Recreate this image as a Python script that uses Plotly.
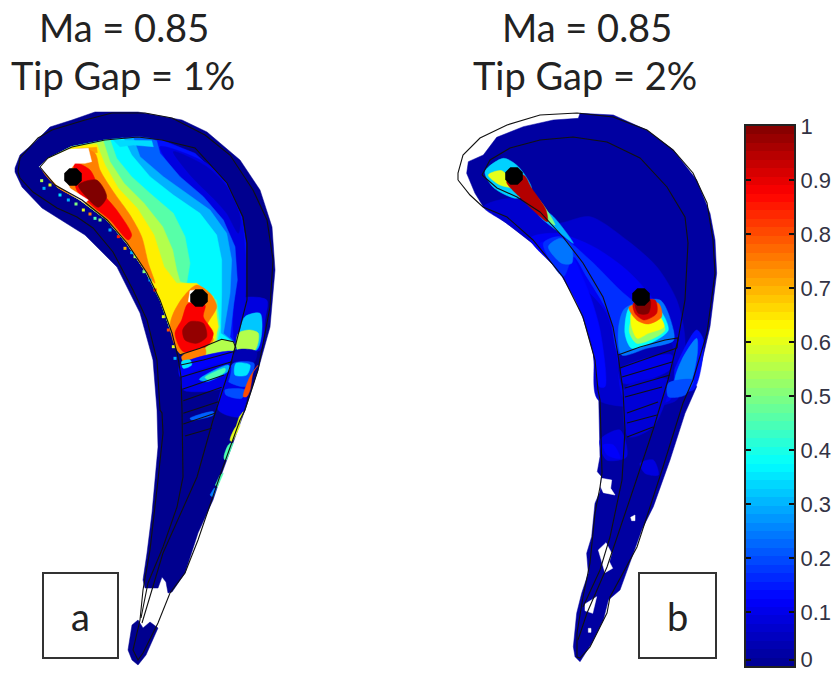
import plotly.graph_objects as go
from plotly.colors import sample_colorscale

JET = [[0, "rgb(0,0,143)"], [0.125, "rgb(0,0,255)"], [0.375, "rgb(0,255,255)"],
       [0.625, "rgb(255,255,0)"], [0.875, "rgb(255,0,0)"], [1, "rgb(128,0,0)"]]
BAR_LEVELS = [(i + 0.5) / 64 for i in range(64)]
BAR_TICKS = [0.012, 0.1, 0.2, 0.3, 0.4, 0.5, 0.6, 0.7, 0.8, 0.9, 1]
BAR_TEXT = ["0", "0.1", "0.2", "0.3", "0.4", "0.5", "0.6", "0.7", "0.8", "0.9", "1"]
TITLES = [("Ma = 0.85", 124, 27), ("Tip Gap = 1%", 123, 75), ("Ma = 0.85", 587, 27), ("Tip Gap = 2%", 585, 75)]
LETTERS = [("a", 80, 616, 43, 573, 118, 658), ("b", 677, 616, 639, 573, 716, 658)]

# ---- profile lines of blade b (page pixels)
SKIN = [(458,180),(458,173),(463,155),(480,138),(507,125),(540,115),(577,113),(613,117),(647,130),(673,150),(693,173),(707,203),(713,240),(715,273),(707,333),(693,380),(683,403),(663,467),(637,547),(610,597),(607,613),(590,647),(580,658),(577,657),(577,633),(583,597),(590,563),(595,513),(600,487),(602,473),(600,400),(598,390),(595,360),(583,317),(563,277),(533,240),(507,217),(483,207),(470,195),(458,180)]
SPAR_R = [(482,175),(490,160),(510,148),(540,140),(573,137),(607,142),(640,158),(667,187),(685,217),(688,243),(685,300),(678,340),(668,380),(653,430),(633,490),(607,567),(587,613),(578,640)]
SPAR_L = [(482,175),(497,188),(517,197),(540,212),(563,237),(583,263),(603,297),(613,327),(618,355),(623,390),(625,430),(622,480),(610,537),(600,570),(583,607)]
RIBS = [[(618,355),(640,347),(665,340),(678,338),(677,348)], [(620,368),(677,348)], [(622,377),(672,362)], [(625,388),(670,375)],
        [(625,397),(662,387)], [(627,413),(658,402)], [(627,423),(657,415)], [(627,437),(653,427)]]

# ---- profile lines of blade a (page pixels)
A_SKIN = [(18,172),(20,158),(38,138),(52,130),(85,120),(112,113),(145,113),(172,118),(205,135),(230,155),(253,190),(267,220),(273,260),(270,307),(258,370),(245,410),(240,420),(223,467),(198,540),(185,573),(170,593),(158,623),(143,653),(138,660),(133,650),(140,620),(143,590),(150,550),(158,480),(163,433),(162,413),(160,410),(157,360),(147,320),(133,290),(113,252),(93,228),(77,217),(57,208),(33,192),(20,178),(18,172)]
A_SPAR_R = [(40,167),(48,158),(72,147),(105,140),(138,137),(162,140),(195,148),(227,183),(243,217),(247,243),(247,300),(237,340),(230,367),(213,420),(197,477),(163,553),(153,587),(142,623)]
A_SPAR_L = [(40,167),(55,185),(82,200),(107,220),(127,243),(147,273),(160,300),(172,333),(178,357),(181,377),(182,410),(183,477),(177,507),(163,547),(148,583),(141,618)]
# crop coordinates of a 3x view with origin (150,300)
A_RIBS = [[(88,165),(150,145),(215,118),(250,125),(258,145)], [(92,195),(160,180),(250,155)], [(92,232),(245,185)], [(97,268),(222,225)],
          [(100,302),(215,262)], [(100,340),(205,305)], [(100,372),(195,340)], [(105,408),(185,385)]]

# ---- blade a masks (page pixels)
A_MASK = [(15,168),(20,155),(35,142),(50,127),(72,120),(95,112),(138,112),(182,120),(207,132),(240,160),(260,190),(272,227),(275,270),(270,327),(258,370),(245,410),(222,473),(213,500),(198,533),(185,573),(172,592),(168,593),(166,582),(162,577),(158,588),(145,588),(143,580),(147,553),(152,513),(155,480),(158,447),(157,410),(155,380),(153,360),(140,313),(117,267),(85,235),(72,227),(42,208),(22,187),(15,172)]
A_LOBE = [(132,625),(128,650),(132,660),(138,665),(146,655),(158,628),(150,622),(143,628),(138,620)]

# ---- blade a colour patches, crop coordinates of a 3x view with origin (0,120)
A_EDGE = [(705,670),(640,690),(540,700),(515,640),(480,540),(440,460),(380,370),(320,300),(240,240),(170,200),(120,140)]
A_TOP = [(145,115),(215,80),(315,60),(415,50),(450,55)]
A_CAVITY = [(120,140),(145,115),(215,80),(315,60),(415,50),(485,60),(585,100),(680,190),(725,290),(738,370),(735,540),(705,670),(640,690),(540,700),(515,640),(480,540),(440,460),(380,370),(320,300),(240,240),(170,200)]
A_ISO = [
    (0.22, [(470,62),(480,100),(540,170),(610,230),(670,300),(705,380),(712,480),(700,560),(690,650)]),
    (0.30, [(400,54),(420,110),(490,170),(560,220),(630,270),(680,340),(695,420),(690,520),(670,640)]),
    (0.37, [(370,54),(395,105),(450,170),(520,225),(600,280),(650,345),(665,420),(665,520),(662,640)]),
    (0.46, [(330,58),(350,115),(395,170),(450,220),(520,280),(555,350),(570,430),(560,490),(650,540),(660,620),(650,675)]),
    (0.55, [(310,64),(330,125),(372,190),(432,250),(488,320),(518,390),(530,450),(540,485),(620,510),(650,570),(650,670)]),
    (0.64, [(290,72),(315,135),(355,205),(412,265),(462,345),(492,440),(530,490),(590,490),(640,530),(655,620),(640,675)]),
]
A_DARK = (0.05, [(520,95),(620,140),(680,200),(720,290),(715,340),(680,280),(640,235),(575,170)])
A_ORANGE1 = (0.75, [(125,140),(245,85),(285,100),(300,150),(340,215),(390,285),(425,350),(445,430),(465,490),(440,460),(380,370),(320,300),(240,240),(170,200)])
A_ORANGE2 = (0.75, [(550,530),(590,495),(630,520),(650,560),(620,620),(640,660),(610,690),(540,700),(510,620),(520,580)])
A_RED1 = (0.88, [(225,130),(270,150),(300,210),(350,270),(395,345),(385,360),(330,300),(280,260),(230,210)])
A_RED2 = (0.88, [(565,550),(615,555),(610,590),(640,640),(620,680),(550,695),(525,640),(545,600)])
A_MAROON1 = (1.0, [(235,195),(290,180),(320,230),(295,262),(260,232)])
A_MAROON2 = (0.98, [(570,605),(610,610),(620,650),(590,670),(555,660),(548,630)])
A_WHITE1 = [(118,140),(140,118),(205,88),(265,85),(275,125),(255,130),(225,130),(195,170),(210,205),(265,240),(255,250),(170,195)]
A_WHITE2 = [(570,512),(585,510),(590,548),(565,545)]
A_TOPBAND = [(0.34, [(340,60),(455,62),(460,80),(400,75),(360,80)]), (0.72, [(245,85),(290,82),(292,98),(250,100)])]
A_SPECKLE_X = [125,132,180,205,250,300,330,355,375,405,432,465,490,505,520,525,150,228,270,285,395,450]
A_SPECKLE_Y = [182,205,225,240,270,300,330,350,385,410,455,510,590,630,680,715,195,252,282,295,398,480]
A_SPECKLE_V = [0.55,0.3,0.35,0.3,0.6,0.5,0.3,0.85,0.7,0.55,0.5,0.85,0.6,0.8,0.6,0.3,0.6,0.5,0.75,0.45,0.3,0.3]

# crop coordinates of a 3x view with origin (150,300)
A_BAND = [
    (0.09, [(262,0),(350,0),(345,60),(330,150),(262,150)]),
    (0.32, [(285,50),(330,40),(335,100),(320,150),(262,150),(268,100)]),
    (0.55, [(265,100),(300,90),(325,100),(315,150),(262,148)]),
    (0.04, [(262,150),(320,155),(310,190),(250,185)]),
    (0.1, [(230,240),(290,260),(270,350),(205,330)]),
    (0.2, [(250,190),(312,190),(300,240),(285,260),(230,240)]),
    (0.35, [(258,190),(300,195),(290,225),(255,225)]),
    (0.2, [(225,270),(285,270),(275,295),(228,285)]),
    (0.8, [(325,195),(310,215),(300,270),(290,290),(280,290),(300,230)]),
    (0.6, [(270,375),(262,395),(245,425),(240,420),(258,380)]),
    (0.45, [(245,430),(235,465),(225,480),(222,470),(235,435)]),
    (0.55, [(165,145),(215,120),(250,128),(255,148),(165,170)]),
    (0.75, [(95,170),(165,145),(165,170),(105,190)]),
    (0.12, [(90,195),(250,155),(240,185),(92,232)]),
    (0.35, [(95,185),(120,180),(125,195),(100,205)]),
    (0.1, [(95,235),(240,190),(225,260),(100,270)]),
    (0.3, [(148,238),(235,195),(238,210),(170,245)]),
    (0.45, [(165,232),(225,205),(225,215),(175,240)]),
    (0.22, [(120,355),(190,335),(190,345),(125,360)]),
]
# lower edge of blade a, crop coordinates of a 3x view with origin (30,380)
A_TAIL = [
    (0.6, [(640,95),(620,160),(610,165),(628,110)]),
    (0.45, [(610,190),(590,240),(582,235),(600,190)]),
    (0.45, [(580,280),(562,322),(556,315),(570,285)]),
    (0.25, [(560,325),(548,352),(540,345),(552,325)]),
]

# ---- blade b masks, crop origin (440,100) for the upper part, (520,380) for the lower one
B_MASK_UP = [(85,185),(130,165),(170,112),(250,80),(340,60),(415,55),(420,40),(520,45),(620,90),(700,150),(770,240),(810,340),(825,420),(830,520),(810,680),(775,830),(760,870),(745,900),(475,900),(470,860),(460,760),(420,620),(370,530),(290,440),(200,370),(130,320),(105,280),(80,220)]
B_MASK_LOW = [(235,0),(240,230),(232,275),(245,290),(240,335),(225,370),(215,470),(200,520),(205,580),(185,640),(170,700),(160,800),(165,830),(180,845),(215,790),(250,720),(265,660),(300,630),(340,520),(365,450),(400,380),(450,240),(495,100),(530,20),(520,0)]
B_HOLES = [[(245,295),(275,300),(272,325),(285,345),(250,338),(242,320)], [(235,510),(258,488),(275,520),(268,545),(278,565),(255,578)], [(195,672),(230,650),(218,700),(195,692)], [(332,412),(345,405),(345,422),(335,422)], [(205,745),(213,745),(213,757),(205,757)]]
B_PATCHES_UP = [
    (0.07, [(130,320),(230,295),(340,370),(450,350),(560,420),(650,500),(710,600),(735,720),(710,900),(475,900),(460,760),(420,620),(370,530),(290,440),(200,370)]),
    (0.11, [(270,415),(350,400),(460,440),(560,510),(640,600),(680,700),(700,780),(690,900),(555,900),(530,760),(500,640),(430,560),(370,520)]),
    (0.13, [(300,430),(370,430),(440,560),(480,690),(495,860),(478,860),(455,730),(410,610),(360,520)]),
    (0.17, [(310,430),(360,410),(450,480),(540,570),(620,640),(690,740),(540,765),(510,650),(440,530),(400,470),(370,530)]),
    (0.24, [(325,440),(362,415),(395,445),(395,490),(365,490)]),
    (0.14, [(690,860),(712,790),(770,690),(790,720),(760,870)]),
    (0.25, [(705,850),(725,780),(770,715),(772,760),(745,860)]),
    (0.04, [(540,765),(690,725),(700,760),(690,870),(555,870)]),
    (0.1, [(545,805),(695,765),(688,810),(550,850)]),
    (0.3, [(275,305),(340,350),(400,430),(355,395),(300,350)]),
    (0.33, [(135,215),(190,175),(235,200),(275,270),(230,295),(160,262)]),
    (0.6, [(145,225),(185,212),(225,262),(180,255)]),
    (0.5, [(270,270),(310,315),(345,375),(320,360),(285,320)]),
    (0.24, [(555,625),(660,600),(700,690),(700,722),(620,745),(545,765),(535,690)]),
    (0.38, [(570,620),(650,620),(685,690),(640,725),(575,745),(555,700)]),
    (0.52, [(580,650),(655,650),(675,690),(635,718),(590,730),(568,695)]),
    (0.62, [(575,640),(650,640),(672,680),(625,700),(592,715),(575,680)]),
    (0.78, [(567,622),(655,610),(665,650),(625,672),(590,660)]),
    (0.92, [(580,610),(645,600),(650,640),(612,660),(585,640)]),
    (1.0, [(585,600),(630,598),(625,640),(595,640)]),
    (0.95, [(200,245),(250,225),(275,265),(318,330),(322,365),(295,345),(240,292)]),
]
B_PATCHES_LOW = [
    (0.08, [(320,20),(445,0),(400,140),(325,170)]),
    (0.09, [(240,180),(300,150),(320,230),(260,240)]),
    (0.12, [(250,195),(280,195),(300,235),(262,225)]),
    (0.09, [(360,250),(400,240),(415,285),(375,280)]),
    (0.2, [(445,10),(520,0),(495,45),(445,50)]),
]

MARKS_X = [73, 199, 514, 641]
MARKS_Y = [177, 298, 176, 297]

fig = go.Figure()

def crop(pts, ox, oy):
    return [(ox + x / 3, oy + y / 3) for x, y in pts]

def jet(v):
    return sample_colorscale(JET, [v])[0]

def fill(pts, color, shape="spline"):
    xs, ys = zip(*pts)
    fig.add_trace(go.Scatter(x=list(xs) + [xs[0]], y=list(ys) + [ys[0]], mode="lines", fill="toself", fillcolor=color,
                             line=dict(color=color, width=0.5, shape=shape, smoothing=0.8), hoverinfo="skip", showlegend=False))

def patches(items, ox, oy, shape="spline"):
    for v, pts in items:
        fill(crop(pts, ox, oy), jet(v), shape)

def a_iso(v, iso):
    top = [p for p in A_TOP if p[0] < iso[0][0]]
    return (v, iso + A_EDGE + top)

def outline(path):
    fig.add_trace(go.Scatter(x=[p[0] for p in path], y=[p[1] for p in path], mode="lines",
                             line=dict(color="#111111", width=1.1), hoverinfo="skip", showlegend=False))

# blade a
fill(A_MASK, jet(0), "linear")
fill(A_LOBE, jet(0), "linear")
fill(crop(A_CAVITY, 0, 120), jet(0.14), "linear")
patches([(0.09, [(480,80),(620,130),(680,195),(725,300),(735,540),(710,640),(700,500),(690,360),(620,240),(530,160)])], 0, 120)
patches([A_DARK], 0, 120)
for v, iso in A_ISO:
    v, pts = a_iso(v, iso)
    fill(crop(pts, 0, 120), jet(v), "linear")
patches(A_TOPBAND, 0, 120, "linear")
patches([A_ORANGE1, A_ORANGE2, A_RED1, A_RED2, A_MAROON1, A_MAROON2], 0, 120)
fill(crop(A_WHITE1, 0, 120), "white", "linear")
fill(crop(A_WHITE2, 0, 120), "white", "linear")
patches(A_BAND, 150, 300)
patches(A_TAIL, 30, 380, "linear")
fig.add_trace(go.Scatter(x=[x / 3 for x in A_SPECKLE_X], y=[120 + y / 3 for y in A_SPECKLE_Y], mode="markers",
                         marker=dict(size=3, symbol="square", color=[jet(v) for v in A_SPECKLE_V]),
                         hoverinfo="skip", showlegend=False))

# blade b
fill(crop(B_MASK_UP, 440, 100), jet(0.02), "linear")
fill(crop(B_MASK_LOW, 520, 380), jet(0.02), "linear")
patches(B_PATCHES_UP, 440, 100)
patches(B_PATCHES_LOW, 520, 380)
for hole in B_HOLES:
    fill(crop(hole, 520, 380), "white", "linear")

# profile lines
for path in [A_SKIN, A_SPAR_R, A_SPAR_L] + [crop(r, 150, 300) for r in A_RIBS]:
    outline(path)
for path in [SKIN, SPAR_R, SPAR_L] + RIBS:
    outline(path)

fig.add_trace(go.Scatter(x=MARKS_X, y=MARKS_Y, mode="markers", marker=dict(size=19, color="black", symbol="octagon"),
                         hoverinfo="skip", showlegend=False))

# colour bar
fig.add_trace(go.Heatmap(x=[0, 1], y=BAR_LEVELS, z=[[v, v] for v in BAR_LEVELS], zmin=0, zmax=1, colorscale=JET,
                         showscale=False, hoverinfo="skip", xaxis="x2", yaxis="y2"))

for text, x, y in TITLES:
    fig.add_annotation(x=x, y=y, text=text, showarrow=False, xref="x", yref="y",
                       font=dict(family="Lato", size=38, color="#222222"))
for text, x, y, x0, y0, x1, y1 in LETTERS:
    fig.add_shape(type="rect", x0=x0, y0=y0, x1=x1, y1=y1, xref="x", yref="y", line=dict(color="#333333", width=2))
    fig.add_annotation(x=x, y=y, text=text, showarrow=False, xref="x", yref="y",
                       font=dict(family="Lato", size=38, color="#222222"))

fig.update_layout(
    width=838, height=673, margin=dict(l=0, r=0, t=0, b=0, autoexpand=False), paper_bgcolor="white", plot_bgcolor="white",
    xaxis=dict(range=[0, 838], visible=False, domain=[0, 1]),
    yaxis=dict(range=[673, 0], visible=False, domain=[0, 1]),
    xaxis2=dict(domain=[746 / 838, 794 / 838], range=[0, 1], anchor="y2", showticklabels=False, ticks="",
                showline=True, linecolor="#222222", linewidth=2, mirror=True, showgrid=False, zeroline=False),
    yaxis2=dict(domain=[1 - 666 / 673, 1 - 126 / 673], range=[0, 1], anchor="x2", side="right", tickmode="array",
                tickvals=BAR_TICKS, ticktext=BAR_TEXT, ticks="inside", ticklen=5, tickcolor="#111111", tickwidth=1.5,
                showline=True, linecolor="#222222", linewidth=2, mirror="ticks", showgrid=False, zeroline=False,
                tickfont=dict(family="Liberation Sans", size=22, color="#333344")),
)
fig.write_html("out.html", config={"displayModeBar": False},
               post_script="document.body.style.margin='0';document.documentElement.style.overflow='hidden';")
